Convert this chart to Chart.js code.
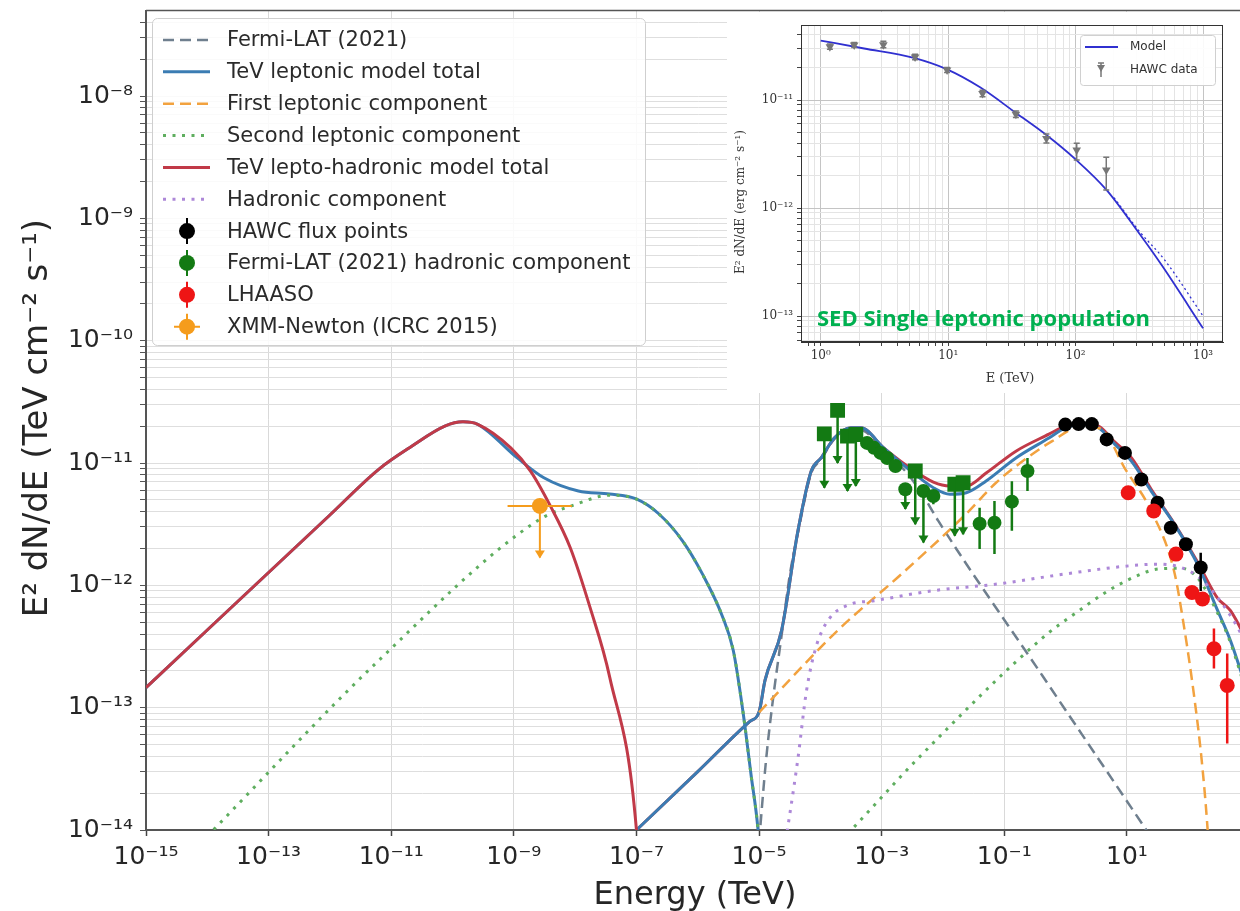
<!DOCTYPE html>
<html>
<head>
<meta charset="utf-8">
<title>SED</title>
<script src="https://cdn.jsdelivr.net/npm/chart.js@4.4.1/dist/chart.umd.min.js"></script>
<style>
  html, body { margin: 0; padding: 0; background: #fff; }
  body { width: 1240px; height: 911px; overflow: hidden; position: relative; }
  #main { position: absolute; left: 0; top: 0; }
  #inset-wrap { position: absolute; left: 727px; top: 12px; width: 513px; height: 381px; background: #fff; }
  #note { position: absolute; left: 817px; top: 305px; font: bold 22px "Open Sans", sans-serif; line-height: 24px; color: #00b050; white-space: nowrap; }
</style>
</head>
<body>
<canvas id="main" width="1260" height="911"></canvas>
<div id="inset-wrap"><canvas id="inset" width="513" height="381"></canvas></div>
<div id="note">SED Single leptonic population</div>
<script>
// ---------- main SED: E (TeV) vs E^2 dN/dE (TeV cm^-2 s^-1) ----------
const xMajor = [1e-15, 1e-13, 1e-11, 1e-9, 1e-7, 1e-5, 1e-3, 1e-1, 1e1];
const xLabels = ['10⁻¹⁵', '10⁻¹³', '10⁻¹¹', '10⁻⁹', '10⁻⁷', '10⁻⁵', '10⁻³', '10⁻¹', '10¹'];
const yMajor = [1e-14, 1e-13, 1e-12, 1e-11, 1e-10, 1e-9, 1e-8];
const yLabels = ['10⁻¹⁴', '10⁻¹³', '10⁻¹²', '10⁻¹¹', '10⁻¹⁰', '10⁻⁹', '10⁻⁸'];

// lepto-hadronic total, synchrotron branch
const redSyncE = [1e-15, 1e-12, 6.25e-12, 2.16e-11, 7.48e-11, 1.48e-10, 2.58e-10, 8.91e-10, 1.87e-9, 3.94e-9, 8.3e-9, 1.75e-8, 3.67e-8, 1e-7, 1.3e-7];
const redSyncF = [1.46e-13, 3.76e-12, 8.88e-12, 1.37e-11, 2.0e-11, 2.17e-11, 2.07e-11, 1.33e-11, 8.59e-12, 4.46e-12, 2.04e-12, 6.6e-13, 1.77e-13, 1e-14, 1e-15];
// leptonic total, synchrotron branch
const blueSyncE = [1e-15, 1e-12, 6.25e-12, 2.16e-11, 7.48e-11, 1.48e-10, 2.58e-10, 1.14e-9, 3.09e-9, 1.13e-8, 3.63e-8, 9.9e-8, 2.33e-7, 5.64e-7, 1.19e-6, 2.5e-6, 3.8e-6, 5.51e-6, 7.42e-6, 9.63e-6, 1.07e-5];
const blueSyncF = [1.46e-13, 3.76e-12, 8.88e-12, 1.37e-11, 2.0e-11, 2.17e-11, 2.07e-11, 1.10e-11, 7.57e-12, 5.9e-12, 5.58e-12, 5.08e-12, 3.83e-12, 2.31e-12, 1.24e-12, 5.65e-13, 2.93e-13, 9.0e-14, 2.8e-14, 1e-14, 4.7e-15];
// IC / high energy branch (shared energies)
const icE = [5e-8, 1e-7, 1e-6, 7e-6, 1e-5, 1.25e-5, 2.33e-5, 4.31e-5, 7.1e-5, 1.03e-4, 1.69e-4, 3.14e-4, 4.56e-4, 1.08e-3, 2.58e-3, 6.97e-3, 1.30e-2, 2.40e-2, 5.06e-2, 0.155, 0.535, 0.993, 1.85, 3.44, 6.38, 11.9, 24.9, 59.4, 142, 299, 490, 1000];
const blueICF = [7.2e-15, 1e-14, 3.0e-14, 7.7e-14, 9.2e-14, 1.67e-13, 4.27e-13, 2.79e-12, 8.59e-12, 1.10e-11, 1.60e-11, 1.94e-11, 1.94e-11, 1.33e-11, 9.14e-12, 6.28e-12, 5.55e-12, 5.71e-12, 7.13e-12, 1.10e-11, 1.60e-11, 1.94e-11, 2.06e-11, 1.94e-11, 1.42e-11, 1.03e-11, 5.9e-12, 3.16e-12, 1.49e-12, 6.3e-13, 3.53e-13, 1.2e-13];
const redICF = [7.2e-15, 1e-14, 3.0e-14, 7.7e-14, 9.2e-14, 1.67e-13, 4.27e-13, 2.79e-12, 8.59e-12, 1.10e-11, 1.60e-11, 1.94e-11, 1.94e-11, 1.33e-11, 9.5e-12, 6.98e-12, 6.48e-12, 6.48e-12, 8.28e-12, 1.25e-11, 1.72e-11, 2.0e-11, 2.1e-11, 2.0e-11, 1.48e-11, 1.1e-11, 6.1e-12, 3.2e-12, 1.55e-12, 7.9e-13, 6.2e-13, 3.2e-13];
// second leptonic component (sync + IC)
const secondE = [7.74e-15, 6.25e-12, 2.4e-9, 1.06e-8, 3.63e-8, 9.9e-8, 2.33e-7, 5.64e-7, 1.19e-6, 2.5e-6, 3.8e-6, 5.51e-6, 7.42e-6, 9.63e-6, 1.07e-5, 2.04e-4, 3.18e-4, 3.67e-3, 0.5, 1.42, 4.98, 17.2, 32, 76.2, 142, 299, 490, 1000];
const secondF = [7.8e-15, 2.43e-13, 3.36e-12, 4.62e-12, 5.45e-12, 5.08e-12, 3.83e-12, 2.31e-12, 1.24e-12, 5.65e-13, 2.93e-13, 9.0e-14, 2.8e-14, 1e-14, 4.7e-15, 8e-15, 1e-14, 3.72e-14, 4.0e-13, 5.87e-13, 9.04e-13, 1.24e-12, 1.36e-12, 1.38e-12, 1.15e-12, 6.0e-13, 3.4e-13, 1.1e-13];
// first leptonic component
const firstE = [1e-5, 1.91e-4, 2.12e-3, 2.38e-2, 7.26e-2, 0.224, 0.605, 1.85, 3.89, 9.14, 24.9, 58.8, 86, 124.5, 166, 206, 240];
const firstF = [9.16e-14, 4.27e-13, 1.24e-12, 3.83e-12, 6.86e-12, 1.08e-11, 1.51e-11, 2.0e-11, 1.89e-11, 9.14e-12, 4.06e-12, 1.31e-12, 4.51e-13, 1.26e-13, 3.72e-14, 1.06e-14, 3e-15];
// Fermi-LAT (2021) model
const fermiE = [1e-5, 1.30e-5, 1.68e-5, 2.33e-5, 3.16e-5, 4.31e-5, 7.1e-5, 1.03e-4, 1.69e-4, 3.14e-4, 4.56e-4, 1.08e-3, 2.58e-3, 4.8e-3, 8.4e-3, 0.417, 20.7, 36];
const fermiF = [8e-15, 3.72e-14, 1.15e-13, 3.88e-13, 1.2e-12, 2.69e-12, 8.28e-12, 1.07e-11, 1.57e-11, 1.85e-11, 1.85e-11, 1.27e-11, 8.28e-12, 5.37e-12, 3.36e-12, 1.83e-13, 1e-14, 6.6e-15];
// hadronic component
const hadE = [2.44e-5, 4.27e-5, 5.95e-5, 8.64e-5, 1.40e-4, 2.95e-4, 7.48e-4, 6.97e-3, 8.33e-2, 0.993, 11.9, 32, 76.2, 160, 490, 1000];
const hadF = [5.7e-15, 3.72e-14, 1.38e-13, 3.22e-13, 5.35e-13, 6.95e-13, 7.48e-13, 9.04e-13, 1.03e-12, 1.24e-12, 1.45e-12, 1.49e-12, 1.40e-12, 1.13e-12, 5.65e-13, 3.0e-13];

// flux points
const hawcE = [0.99, 1.63, 2.68, 4.68, 9.3, 17.2, 31.7, 52, 91.8, 160];
const hawcF = [2.06e-11, 2.08e-11, 2.08e-11, 1.56e-11, 1.21e-11, 7.34e-12, 4.74e-12, 2.96e-12, 2.17e-12, 1.40e-12];
const hawcLo = [1.95e-11, 1.97e-11, 1.97e-11, 1.48e-11, 1.14e-11, 6.9e-12, 4.45e-12, 2.75e-12, 1.98e-12, 9.0e-13];
const hawcHi = [2.17e-11, 2.19e-11, 2.19e-11, 1.65e-11, 1.28e-11, 7.8e-12, 5.05e-12, 3.18e-12, 2.38e-12, 1.85e-12];

const lhaasoE = [10.5, 27.4, 63.2, 115, 171, 263, 433];
const lhaasoF = [5.71e-12, 4.06e-12, 1.80e-12, 8.75e-13, 7.73e-13, 3.03e-13, 1.52e-13];
const lhaasoLo = [5.4e-12, 3.85e-12, 1.68e-12, 8.1e-13, 7.1e-13, 2.09e-13, 5.1e-14];
const lhaasoHi = [6.0e-12, 4.3e-12, 1.93e-12, 9.4e-13, 8.4e-13, 4.43e-13, 2.77e-13];

const fermiSqE = [1.16e-4, 1.91e-4, 2.77e-4, 3.79e-4, 3.53e-3, 1.56e-2, 2.13e-2];
const fermiSqF = [1.73e-11, 2.69e-11, 1.66e-11, 1.71e-11, 8.6e-12, 6.7e-12, 6.9e-12];
const fermiSqLim = [6.28e-12, 1.0e-11, 5.9e-12, 6.5e-12, 3.16e-12, 2.54e-12, 2.62e-12];

const fermiCiE = [5.77e-4, 7.5e-4, 9.6e-4, 1.23e-3, 1.68e-3, 2.43e-3, 4.8e-3, 6.97e-3, 3.96e-2, 6.92e-2, 0.133, 0.239];
const fermiCiF = [1.46e-11, 1.33e-11, 1.21e-11, 1.10e-11, 9.44e-12, 6.1e-12, 5.9e-12, 5.37e-12, 3.19e-12, 3.25e-12, 4.83e-12, 8.6e-12];
const fermiCiLo = [1.33e-11, 1.21e-11, 1.1e-11, 1.0e-11, 8.5e-12, 4.2e-12, 2.24e-12, 4.6e-12, 1.98e-12, 1.8e-12, 2.79e-12, 5.9e-12];
const fermiCiHi = [1.6e-11, 1.45e-11, 1.33e-11, 1.21e-11, 1.05e-11, 6.1e-12, 5.9e-12, 5.9e-12, 4.3e-12, 4.89e-12, 7.1e-12, 1.1e-11];
const fermiCiUL = [false, false, false, false, false, true, true, false, false, false, false, false];

const xmmE = [2.66e-9];
const xmmF = [4.46e-12];
const xmmELo = [7.9e-10];
const xmmEHi = [8.85e-9];
const xmmLim = [1.69e-12];

// ---------- inset: single leptonic population (erg cm^-2 s^-1) ----------
const inXMajor = [1, 10, 100, 1000];
const inXLabels = ['10⁰', '10¹', '10²', '10³'];
const inYMajor = [1e-13, 1e-12, 1e-11];
const inYLabels = ['10⁻¹³', '10⁻¹²', '10⁻¹¹'];
const modelE = [1, 2.19, 5.37, 9.8, 17.8, 34.5, 59, 100, 174, 316, 479, 1000];
const modelF = [3.55e-11, 3.0e-11, 2.45e-11, 1.92e-11, 1.31e-11, 7.5e-12, 4.74e-12, 2.82e-12, 1.48e-12, 5.8e-13, 2.9e-13, 7.7e-14];
const altE = [200, 316, 500, 1000];
const altF = [1.25e-12, 6.1e-13, 3.3e-13, 1.0e-13];
const inHawcE = [1.18, 1.83, 3.1, 5.5, 9.8, 18.6, 34, 59, 102, 174];
const inHawcF = [3.12e-11, 3.23e-11, 3.25e-11, 2.5e-11, 1.9e-11, 1.15e-11, 7.4e-12, 4.4e-12, 3.45e-12, 2.25e-12];
const inHawcLo = [2.95e-11, 3.06e-11, 3.05e-11, 2.36e-11, 1.8e-11, 1.07e-11, 6.9e-12, 4.0e-12, 2.78e-12, 1.47e-12];
const inHawcHi = [3.3e-11, 3.4e-11, 3.5e-11, 2.65e-11, 2.0e-11, 1.23e-11, 7.9e-12, 4.85e-12, 3.97e-12, 2.96e-12];

// colours
const cFermi = '#6f7f8e', cLep = '#3b7cb3', cFirst = '#f2a23f', cSecond = '#5fae5f';
const cLH = '#c13a48', cHad = '#ad88d8';
const cHawc = '#000000', cFermiPts = '#137a13', cLhaaso = '#ee1515', cXmm = '#f59c1c';

const pts = (xs, ys) => xs.map((x, i) => ({ x: x, y: ys[i] }));

function logTicks(decades, lo, hi, minors) {
  const out = [];
  decades.forEach(d => {
    const ms = minors ? [1, 2, 3, 4, 5, 6, 7, 8, 9] : [1];
    ms.forEach(m => {
      const v = m === 1 ? d : m * d;
      if (v >= lo * 0.9999 && v <= hi) out.push({ value: v, major: m === 1 });
    });
  });
  return out;
}

// error bars / upper-limit arrows, drawn just under each point dataset
const errorBars = {
  id: 'errorBars',
  beforeDatasetDraw(chart, args) {
    const ds = chart.data.datasets[args.index];
    const eb = ds.errorBars;
    if (!eb) return;
    const { ctx, chartArea: a } = chart;
    const xs = chart.scales.x, ys = chart.scales.y;
    ctx.save();
    ctx.beginPath();
    ctx.rect(a.left, a.top, a.width, a.height);
    ctx.clip();
    ctx.strokeStyle = eb.color;
    ctx.fillStyle = eb.color;
    ctx.lineWidth = eb.width || 2;
    ds.data.forEach((p, i) => {
      const px = xs.getPixelForValue(p.x), py = ys.getPixelForValue(p.y);
      if (eb.xLo) {
        ctx.beginPath();
        ctx.moveTo(xs.getPixelForValue(eb.xLo[i]), py);
        ctx.lineTo(xs.getPixelForValue(eb.xHi[i]), py);
        ctx.stroke();
      }
      if (eb.yLo) {
        const y0 = ys.getPixelForValue(eb.yLo[i]);
        const y1 = eb.yHi ? ys.getPixelForValue(eb.yHi[i]) : py;
        ctx.beginPath();
        ctx.moveTo(px, y1);
        ctx.lineTo(px, y0);
        ctx.stroke();
        if (eb.cap) {
          ctx.beginPath();
          ctx.moveTo(px - eb.cap, y0); ctx.lineTo(px + eb.cap, y0);
          ctx.moveTo(px - eb.cap, y1); ctx.lineTo(px + eb.cap, y1);
          ctx.stroke();
        }
        const ul = eb.ul === true || (eb.ul && eb.ul[i]);
        if (ul) {
          ctx.beginPath();
          ctx.moveTo(px - 5, y0 - 7);
          ctx.lineTo(px + 5, y0 - 7);
          ctx.lineTo(px, y0 + 1);
          ctx.closePath();
          ctx.fill();
        }
      }
    });
    ctx.restore();
  }
};

function curve(label, data, color, width, dash, order) {
  return {
    label: label, data: data, showLine: true, borderColor: color, backgroundColor: color,
    borderWidth: width, borderDash: dash, pointRadius: 0, fill: false,
    cubicInterpolationMode: 'monotone', order: order
  };
}

const legendRows = [
  { text: 'Fermi-LAT (2021)', color: cFermi, dash: [11, 6], w: 2.5 },
  { text: 'TeV leptonic model total', color: cLep, dash: [], w: 3 },
  { text: 'First leptonic component', color: cFirst, dash: [11, 6], w: 2.5 },
  { text: 'Second leptonic component', color: cSecond, dash: [3, 6.5], w: 3 },
  { text: 'TeV lepto-hadronic model total', color: cLH, dash: [], w: 3 },
  { text: 'Hadronic component', color: cHad, dash: [3, 6.5], w: 3 },
  { text: 'HAWC flux points', color: cHawc, marker: true },
  { text: 'Fermi-LAT (2021) hadronic component', color: cFermiPts, marker: true },
  { text: 'LHAASO', color: cLhaaso, marker: true },
  { text: 'XMM-Newton (ICRC 2015)', color: cXmm, marker: true, xbar: true }
];

const mainDecor = {
  id: 'mainDecor',
  afterDraw(chart) {
    const { ctx, chartArea: a } = chart;
    ctx.save();
    // top frame line
    ctx.strokeStyle = '#555';
    ctx.lineWidth = 1.5;
    ctx.beginPath();
    ctx.moveTo(a.left, a.top);
    ctx.lineTo(a.right, a.top);
    ctx.stroke();

    // legend box
    ctx.beginPath();
    ctx.roundRect(152.5, 18.5, 493, 327, 5);
    ctx.fillStyle = 'rgba(255,255,255,0.85)';
    ctx.fill();
    ctx.strokeStyle = '#cfcfcf';
    ctx.lineWidth = 1;
    ctx.stroke();
    ctx.font = '21px "DejaVu Sans"';
    ctx.textBaseline = 'middle';
    legendRows.forEach((r, i) => {
      const yy = 40 + i * 31.85;
      if (r.marker) {
        ctx.strokeStyle = r.color;
        ctx.fillStyle = r.color;
        ctx.lineWidth = 2;
        ctx.setLineDash([]);
        ctx.beginPath();
        ctx.moveTo(187, yy - 13); ctx.lineTo(187, yy + 13);
        if (r.xbar) { ctx.moveTo(174, yy); ctx.lineTo(200, yy); }
        ctx.stroke();
        ctx.beginPath();
        ctx.arc(187, yy, 8, 0, Math.PI * 2);
        ctx.fill();
      } else {
        ctx.strokeStyle = r.color;
        ctx.lineWidth = r.w;
        ctx.setLineDash(r.dash);
        ctx.beginPath();
        ctx.moveTo(163, yy); ctx.lineTo(210, yy);
        ctx.stroke();
        ctx.setLineDash([]);
      }
      ctx.fillStyle = '#2a2a2a';
      ctx.fillText(r.text, 227, yy + 1);
    });

    // axis titles
    ctx.fillStyle = '#262626';
    ctx.font = '32px "DejaVu Sans"';
    ctx.textAlign = 'center';
    ctx.textBaseline = 'alphabetic';
    ctx.fillText('Energy (TeV)', 695, 904);
    ctx.translate(38, 418);
    ctx.rotate(-Math.PI / 2);
    ctx.font = '34px "DejaVu Sans"';
    ctx.textBaseline = 'middle';
    ctx.fillText('E² dN/dE (TeV cm⁻² s⁻¹)', 0, 0);
    ctx.restore();
  }
};

const Y_MIN = 1e-14, Y_MAX = 5e-8;

new Chart(document.getElementById('main'), {
  type: 'scatter',
  data: {
    datasets: [
      { label: 'XMM-Newton (ICRC 2015)', data: pts(xmmE, xmmF), pointRadius: 8, pointBackgroundColor: cXmm, pointBorderWidth: 0, order: 0,
        errorBars: { color: cXmm, width: 2, xLo: xmmELo, xHi: xmmEHi, yLo: xmmLim, ul: true } },
      { label: 'LHAASO', data: pts(lhaasoE, lhaasoF), pointRadius: 7.5, pointBackgroundColor: cLhaaso, pointBorderWidth: 0, order: 1,
        errorBars: { color: cLhaaso, width: 2.5, yLo: lhaasoLo, yHi: lhaasoHi } },
      { label: 'Fermi-LAT (2021) hadronic component', data: pts(fermiCiE, fermiCiF), pointRadius: 7, pointBackgroundColor: cFermiPts, pointBorderWidth: 0, order: 2,
        errorBars: { color: cFermiPts, width: 2.5, yLo: fermiCiLo, yHi: fermiCiHi, ul: fermiCiUL } },
      { label: 'Fermi-LAT (2021) hadronic component (UL)', data: pts(fermiSqE, fermiSqF), pointStyle: 'rect', pointRadius: 10.5, pointBackgroundColor: cFermiPts, pointBorderWidth: 0, order: 2,
        errorBars: { color: cFermiPts, width: 2.5, yLo: fermiSqLim, ul: true } },
      { label: 'HAWC flux points', data: pts(hawcE, hawcF), pointRadius: 7, pointBackgroundColor: cHawc, pointBorderWidth: 0, order: 3,
        errorBars: { color: cHawc, width: 2.5, yLo: hawcLo, yHi: hawcHi } },
      curve('TeV lepto-hadronic model total', pts(redSyncE, redSyncF), cLH, 3, [], 10),
      curve('Hadronic component', pts(hadE, hadF), cHad, 3, [3, 6.5], 11),
      curve('Second leptonic component', pts(secondE, secondF), cSecond, 3, [3, 6.5], 12),
      curve('First leptonic component', pts(firstE, firstF), cFirst, 2.5, [11, 6], 13),
      curve('TeV leptonic model total', pts(blueSyncE, blueSyncF), cLep, 3, [], 14),
      curve('TeV leptonic model total (IC)', pts(icE, blueICF), cLep, 3, [], 14),
      curve('TeV lepto-hadronic model total (IC)', pts(icE, redICF), cLH, 3, [], 15),
      curve('Fermi-LAT (2021)', pts(fermiE, fermiF), cFermi, 2.5, [11, 6], 16)
    ]
  },
  options: {
    responsive: false,
    animation: false,
    devicePixelRatio: 1,
    events: [],
    layout: { padding: { top: 10, right: 1, left: 0, bottom: 0 } },
    plugins: { legend: { display: false }, tooltip: { enabled: false } },
    scales: {
      x: {
        type: 'logarithmic', min: 1e-15, max: 1e3,
        afterBuildTicks: s => { s.ticks = xMajor.map(v => ({ value: v, major: true })); },
        afterFit: s => { s.height = 81; s.paddingLeft = 0; s.paddingRight = 0; },
        ticks: {
          autoSkip: false, maxRotation: 0, padding: 6, color: '#262626',
          font: { family: 'DejaVu Sans', size: 25 },
          callback: v => { const i = xMajor.indexOf(v); return i >= 0 ? xLabels[i] : ''; }
        },
        grid: { color: '#d9d9d9', lineWidth: 1, tickLength: 6, tickColor: '#444', tickWidth: 1.5 },
        border: { color: '#555', width: 2 }
      },
      y: {
        type: 'logarithmic', min: Y_MIN, max: Y_MAX,
        afterBuildTicks: s => { s.ticks = logTicks(yMajor, Y_MIN, Y_MAX * 0.95, true); },
        afterFit: s => { s.width = 146; s.paddingTop = 0; s.paddingBottom = 0; },
        ticks: {
          autoSkip: false, padding: 7, color: '#262626',
          font: { family: 'DejaVu Sans', size: 25 },
          callback: v => { const i = yMajor.indexOf(v); return i >= 0 ? yLabels[i] : ''; }
        },
        grid: { color: '#dedede', lineWidth: 1, tickLength: 6, tickColor: '#555', tickWidth: 1 },
        border: { color: '#555', width: 2 }
      }
    }
  },
  plugins: [errorBars, mainDecor]
});

// ---------- inset chart ----------
const IN_XMIN = 0.71, IN_XMAX = 1434, IN_YMIN = 5.75e-14, IN_YMAX = 4.95e-11;

const insetDecor = {
  id: 'insetDecor',
  afterDraw(chart) {
    const { ctx, chartArea: a } = chart;
    ctx.save();
    ctx.strokeStyle = '#333';
    ctx.lineWidth = 1;
    ctx.strokeRect(a.left + 0.5, a.top + 0.5, a.width - 1, a.height - 1);
    // legend
    ctx.beginPath();
    ctx.roundRect(353.5, 23.5, 135, 50, 3);
    ctx.fillStyle = 'rgba(255,255,255,0.9)';
    ctx.fill();
    ctx.strokeStyle = '#d0d0d0';
    ctx.stroke();
    ctx.strokeStyle = '#3030d0';
    ctx.lineWidth = 1.8;
    ctx.beginPath(); ctx.moveTo(358, 35); ctx.lineTo(391, 35); ctx.stroke();
    ctx.strokeStyle = '#777'; ctx.fillStyle = '#777';
    ctx.lineWidth = 1.5;
    ctx.beginPath(); ctx.moveTo(374, 51); ctx.lineTo(374, 65); ctx.moveTo(371, 51); ctx.lineTo(377, 51); ctx.stroke();
    ctx.beginPath(); ctx.moveTo(370, 53); ctx.lineTo(378, 53); ctx.lineTo(374, 60); ctx.closePath(); ctx.fill();
    ctx.fillStyle = '#333';
    ctx.font = '12px "DejaVu Sans"';
    ctx.textBaseline = 'middle';
    ctx.fillText('Model', 403, 35);
    ctx.fillText('HAWC data', 403, 58);
    // titles
    ctx.font = '13px "DejaVu Serif"';
    ctx.textAlign = 'center';
    ctx.fillText('E (TeV)', 283, 367);
    ctx.translate(14, 190);
    ctx.rotate(-Math.PI / 2);
    ctx.font = '12px "DejaVu Serif"';
    ctx.fillText('E² dN/dE (erg cm⁻² s⁻¹)', 0, 0);
    ctx.restore();
  }
};

const inGrid = (majors) => ctx => (ctx.tick && majors.indexOf(ctx.tick.value) >= 0) ? '#c4c4c4' : '#e4e4e4';

new Chart(document.getElementById('inset'), {
  type: 'scatter',
  data: {
    datasets: [
      { label: 'HAWC data', data: pts(inHawcE, inHawcF), pointStyle: 'triangle', rotation: 180, pointRadius: 5,
        pointBackgroundColor: '#777', pointBorderWidth: 0, order: 0,
        errorBars: { color: '#777', width: 1.5, yLo: inHawcLo, yHi: inHawcHi, cap: 3 } },
      { label: 'Model', data: pts(modelE, modelF), showLine: true, borderColor: '#3030d0', borderWidth: 1.8,
        pointRadius: 0, cubicInterpolationMode: 'monotone', order: 1 },
      { label: 'Model (alt)', data: pts(altE, altF), showLine: true, borderColor: '#3030d0', borderWidth: 1.3,
        borderDash: [2, 3], pointRadius: 0, cubicInterpolationMode: 'monotone', order: 2 }
    ]
  },
  options: {
    responsive: false,
    animation: false,
    devicePixelRatio: 1,
    events: [],
    layout: { padding: { top: 13, right: 17, left: 0, bottom: 0 } },
    plugins: { legend: { display: false }, tooltip: { enabled: false } },
    scales: {
      x: {
        type: 'logarithmic', min: IN_XMIN, max: IN_XMAX,
        afterBuildTicks: s => { s.ticks = logTicks([0.1, 1, 10, 100, 1000], IN_XMIN, IN_XMAX, true); },
        afterFit: s => { s.height = 51; s.paddingLeft = 0; s.paddingRight = 0; },
        ticks: {
          autoSkip: false, maxRotation: 0, padding: 3, color: '#333',
          font: { family: 'DejaVu Serif', size: 12 },
          callback: v => { const i = inXMajor.indexOf(v); return i >= 0 ? inXLabels[i] : ''; }
        },
        grid: { color: inGrid(inXMajor), lineWidth: 1, tickLength: 4, tickColor: '#444' },
        border: { color: '#333', width: 1 }
      },
      y: {
        type: 'logarithmic', min: IN_YMIN, max: IN_YMAX,
        afterBuildTicks: s => { s.ticks = logTicks([1e-14, 1e-13, 1e-12, 1e-11], IN_YMIN, IN_YMAX, true); },
        afterFit: s => { s.width = 74; s.paddingTop = 0; s.paddingBottom = 0; },
        ticks: {
          autoSkip: false, padding: 4, color: '#333',
          font: { family: 'DejaVu Serif', size: 12 },
          callback: v => { const i = inYMajor.indexOf(v); return i >= 0 ? inYLabels[i] : ''; }
        },
        grid: { color: inGrid(inYMajor), lineWidth: 1, tickLength: 4, tickColor: '#444' },
        border: { color: '#333', width: 1 }
      }
    }
  },
  plugins: [errorBars, insetDecor]
});
</script>
</body>
</html>
